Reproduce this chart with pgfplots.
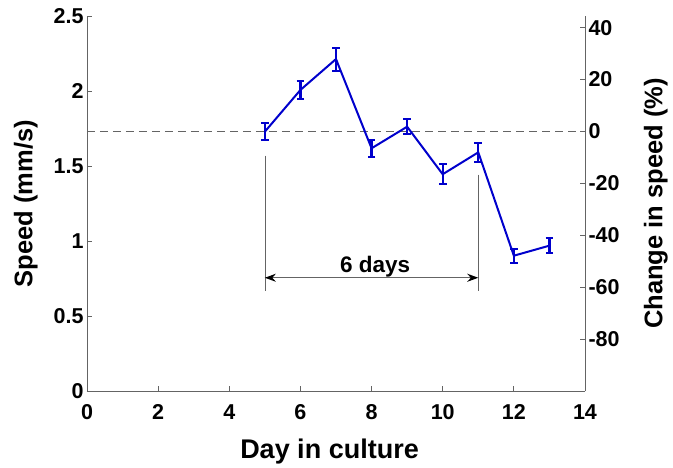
\documentclass[border=0pt]{standalone}
\usepackage{fontspec}
\setmainfont{Liberation Sans}
\usepackage{pgfplots}
\pgfplotsset{compat=1.18}
\usetikzlibrary{arrows.meta}
\definecolor{lineblue}{RGB}{0,0,204}
\definecolor{axisgray}{RGB}{100,100,100}
\begin{document}
\begin{tikzpicture}
\begin{axis}[
  name=main,
  scale only axis, width=498pt, height=375pt,
  xmin=0, xmax=14, ymin=0, ymax=2.5,
  axis x line*=bottom, axis y line*=left,
  axis line style={-, axisgray, line width=0.8pt},
  tick style={axisgray, line width=0.8pt},
  tick align=inside, major tick length=5pt,
  xtick={0,2,...,14}, ytick={0,0.5,...,2.5},
  /pgf/number format/assume math mode=true,
  ticklabel style={font=\fontsize{21.5}{25}\selectfont\bfseries},
  xticklabel style={yshift=-10pt},
  xlabel={Day in culture}, ylabel={Speed (mm/s)},
  xlabel style={font=\fontsize{27}{32}\selectfont\bfseries, at={(axis description cs:0.487,-0.179)}, anchor=base},
  ylabel style={font=\fontsize{25.5}{30}\selectfont\bfseries, at={(axis description cs:-0.123,0.5)}, anchor=center},
  clip=false,
]
\coordinate (O) at (rel axis cs:0,0);
\draw[axisgray, dash pattern=on 8pt off 5pt, line width=0.7pt] (axis cs:0,1.733) -- (axis cs:14,1.733);
\draw[axisgray, line width=0.7pt] (axis cs:5,1.57) -- (axis cs:5,0.665);
\draw[axisgray, line width=0.7pt] (axis cs:11,1.443) -- (axis cs:11,0.665);
\draw[axisgray, line width=1.3pt, {Stealth[length=11pt,width=8pt,black]}-{Stealth[length=11pt,width=8pt,black]}] (axis cs:5,0.755) -- (axis cs:11,0.755);
\node[font=\fontsize{22.5}{26}\selectfont\bfseries, anchor=base] at (axis cs:8.1,0.787) {6 days};
\addplot[lineblue, line width=2pt, mark=none,
  error bars/.cd, y dir=both, y explicit,
  error bar style={line width=2.2pt, lineblue, solid},
  error mark options={rotate=90, mark size=3.8pt, line width=2pt, lineblue}]
coordinates {
  (5,1.729) +- (0,0.055)
  (6,2.007) +- (0,0.063)
  (7,2.213) +- (0,0.077)
  (8,1.618) +- (0,0.058)
  (9,1.762) +- (0,0.050)
  (10,1.445) +- (0,0.068)
  (11,1.591) +- (0,0.062)
  (12,0.902) +- (0,0.047)
  (13,0.969) +- (0,0.048)
};
\end{axis}
\begin{axis}[
  at={(main.south west)}, anchor=south west,
  scale only axis, width=498pt, height=375pt,
  xmin=0, xmax=14, ymin=-100, ymax=44.5,
  axis x line=none, axis y line*=right,
  axis line style={-, axisgray, line width=0.8pt},
  tick style={axisgray, line width=0.8pt},
  tick align=inside, major tick length=5pt,
  ytick={-80,-60,...,40},
  /pgf/number format/assume math mode=true,
  ticklabel style={font=\fontsize{21.5}{25}\selectfont\bfseries},
  ylabel={Change in speed (\%)},
  ylabel style={font=\fontsize{25.5}{30}\selectfont\bfseries, at={(axis description cs:1.142,0.5)}, anchor=center},
]
\end{axis}
\path (O) ++(-87pt,-76pt) rectangle ++(673pt,467pt);
\end{tikzpicture}
\end{document}
